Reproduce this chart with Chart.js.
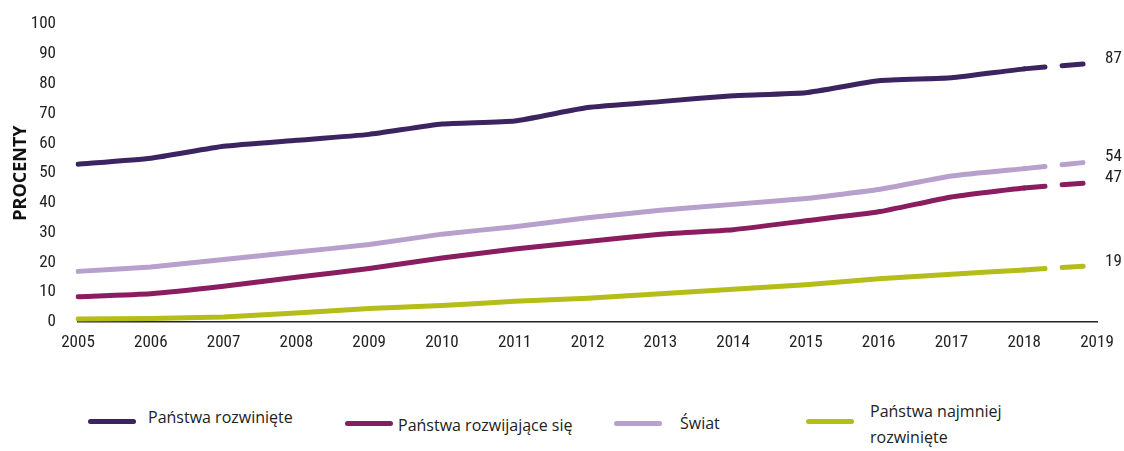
<!DOCTYPE html>
<html>
<head>
<meta charset="utf-8">
<script src="https://cdn.jsdelivr.net/npm/chart.js@4/dist/chart.umd.min.js"></script>
<style>
  body { margin: 0; background: #fff; }
  #wrap { position: relative; width: 1124px; height: 451px; }
  #box { position: absolute; left: 0; top: 0; width: 1124px; height: 360px; }
  .lg { position: absolute; font-family: "Open Sans", sans-serif; font-size: 16px; color: #222; line-height: 26px; }
  .sw { position: absolute; height: 5px; border-radius: 3px; }
</style>
</head>
<body>
<div id="wrap">
  <div id="box"><canvas id="myChart"></canvas></div>
  <div id="legend"></div>
</div>
<script>
var lata = ['2005', '2006', '2007', '2008', '2009', '2010', '2011', '2012', '2013', '2014', '2015', '2016', '2017', '2018', '2019'];
var rozwiniete = [53, 55, 59, 61, 63, 66.5, 67.5, 72, 74, 76, 77, 81, 82, 85, 87];
var rozwijajace = [8.5, 9.5, 12, 15, 18, 21.5, 24.5, 27, 29.5, 31, 34, 37, 42, 45, 47];
var swiat = [17, 18.5, 21, 23.5, 26, 29.5, 32, 35, 37.5, 39.5, 41.5, 44.5, 49, 51.5, 54];
var najmniej = [1, 1.2, 1.7, 3, 4.5, 5.5, 7, 8, 9.5, 11, 12.5, 14.5, 16, 17.5, 19];
var yTicks = [0, 10, 20, 30, 40, 50, 60, 70, 80, 90, 100];

var wazkiFont = '"Roboto Condensed", sans-serif';

// ostatni odcinek (prognoza 2019) kreskowany
function seria(nazwa, dane, kolor) {
    return {
        label: nazwa,
        data: dane,
        borderColor: kolor,
        backgroundColor: kolor,
        borderWidth: 5,
        borderCapStyle: 'round',
        borderJoinStyle: 'round',
        pointRadius: 0,
        tension: 0.15,
        segment: {
            borderDash: function (ctx) {
                return ctx.p1DataIndex === dane.length - 1 ? [21, 17, 21, 60] : undefined;
            }
        }
    };
}

// wartości na końcu linii
var etykietyKonca = {
    id: 'etykietyKonca',
    afterDatasetsDraw: function (chart) {
        var c = chart.ctx;
        c.save();
        c.font = '17px ' + wazkiFont;
        c.fillStyle = '#222';
        c.textBaseline = 'middle';
        chart.data.datasets.forEach(function (ds, i) {
            var meta = chart.getDatasetMeta(i);
            var p = meta.data[meta.data.length - 1];
            var v = ds.data[ds.data.length - 1];
            c.fillText(String(v), p.x + 8, p.y - 4);
        });
        c.restore();
    }
};

var ctx = document.getElementById('myChart').getContext('2d');
var myChart = new Chart(ctx, {
    type: 'line',
    data: {
        labels: lata,
        datasets: [
            seria('Państwa rozwinięte', rozwiniete, '#3c2461'),
            seria('Państwa rozwijające się', rozwijajace, '#8a1c60'),
            seria('Świat', swiat, '#b7a0cc'),
            seria('Państwa najmniej rozwinięte', najmniej, '#b5bd18')
        ]
    },
    options: {
        responsive: true,
        maintainAspectRatio: false,
        animation: false,
        layout: { padding: { top: 22, right: 27, left: 10, bottom: 0 } },
        plugins: { legend: { display: false }, tooltip: { enabled: false } },
        scales: {
            x: {
                offset: false,
                grid: { display: false, drawTicks: true, tickLength: 5, color: '#222' },
                border: { display: true, color: '#222', width: 1.5 },
                ticks: { color: '#222', font: { family: wazkiFont, size: 17 }, padding: 6, maxRotation: 0, autoSkip: false },
                afterFit: function (s) { s.height = 38; }
            },
            y: {
                min: 0,
                max: 100,
                afterBuildTicks: function (s) { s.ticks = yTicks.map(function (v) { return { value: v }; }); },
                grid: { display: false },
                border: { display: false },
                ticks: { color: '#222', font: { family: wazkiFont, size: 17 }, padding: 14 },
                title: { display: true, text: 'PROCENTY', color: '#111', font: { family: 'Open Sans, sans-serif', size: 18, weight: 'bold' }, padding: 0 },
                afterFit: function (s) { s.width = 68; }
            }
        }
    },
    plugins: [etykietyKonca]
});

// legenda pod wykresem
var miejsca = [
    { sx: 88, sy: 419, tx: 148, ty: 404 },
    { sx: 345, sy: 421, tx: 398, ty: 412 },
    { sx: 614, sy: 421, tx: 680, ty: 410 },
    { sx: 806, sy: 419, tx: 870, ty: 398 }
];
var legenda = document.getElementById('legend');
myChart.data.datasets.forEach(function (ds, i) {
    var m = miejsca[i];
    var sw = document.createElement('div');
    sw.className = 'sw';
    sw.style.left = m.sx + 'px';
    sw.style.top = m.sy + 'px';
    sw.style.width = '48px';
    sw.style.background = ds.borderColor;
    legenda.appendChild(sw);
    var t = document.createElement('div');
    t.className = 'lg';
    t.style.left = m.tx + 'px';
    t.style.top = m.ty + 'px';
    t.innerHTML = i === 3 ? 'Państwa najmniej<br>rozwinięte' : ds.label;
    legenda.appendChild(t);
});
</script>
</body>
</html>
